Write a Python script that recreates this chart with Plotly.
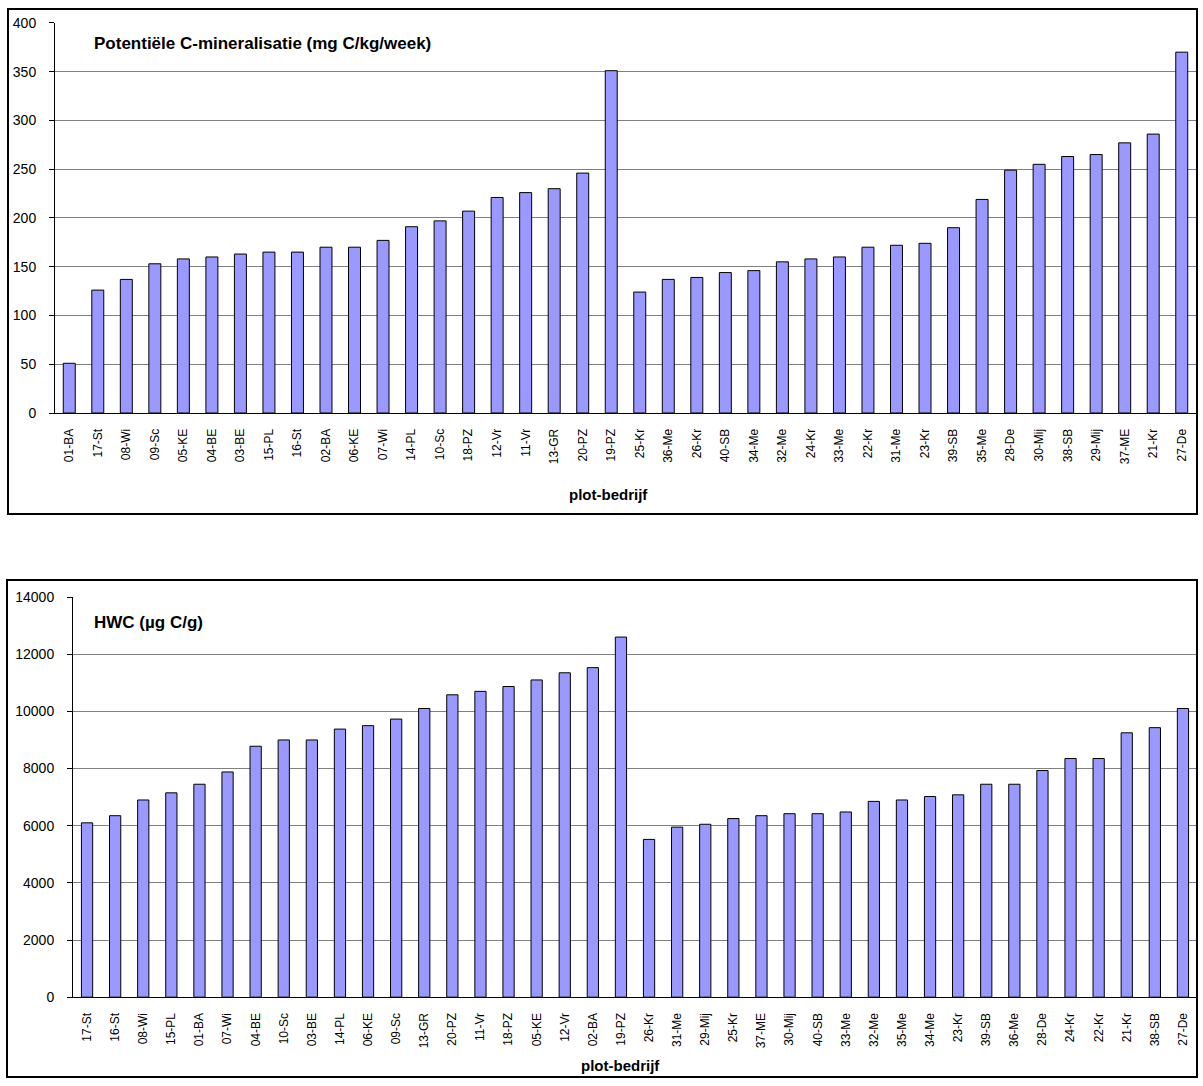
import plotly.graph_objects as go

# ---- Data: top chart (Potentiële C-mineralisatie) ----
cmin_labels = ["01-BA", "17-St", "08-Wi", "09-Sc", "05-KE", "04-BE", "03-BE", "15-PL", "16-St", "02-BA",
               "06-KE", "07-Wi", "14-PL", "10-Sc", "18-PZ", "12-Vr", "11-Vr", "13-GR", "20-PZ", "19-PZ",
               "25-Kr", "36-Me", "26-Kr", "40-SB", "34-Me", "32-Me", "24-Kr", "33-Me", "22-Kr", "31-Me",
               "23-Kr", "39-SB", "35-Me", "28-De", "30-Mij", "38-SB", "29-Mij", "37-ME", "21-Kr", "27-De"]
cmin_values = [51, 126, 137, 153, 158, 160, 163, 165, 165, 170,
               170, 177, 191, 197, 207, 221, 226, 230, 246, 351,
               124, 137, 139, 144, 146, 155, 158, 160, 170, 172,
               174, 190, 219, 249, 255, 263, 265, 277, 286, 370]
cmin_ticks = [0, 50, 100, 150, 200, 250, 300, 350, 400]

# ---- Data: bottom chart (HWC) ----
hwc_labels = ["17-St", "16-St", "08-Wi", "15-PL", "01-BA", "07-Wi", "04-BE", "10-Sc", "03-BE", "14-PL",
              "06-KE", "09-Sc", "13-GR", "20-PZ", "11-Vr", "18-PZ", "05-KE", "12-Vr", "02-BA", "19-PZ",
              "26-Kr", "31-Me", "29-Mij", "25-Kr", "37-ME", "30-Mij", "40-SB", "33-Me", "32-Me", "35-Me",
              "34-Me", "23-Kr", "39-SB", "36-Me", "28-De", "24-Kr", "22-Kr", "21-Kr", "38-SB", "27-De"]
hwc_values = [6100, 6350, 6900, 7150, 7450, 7880, 8780, 9000, 9000, 9380,
              9500, 9730, 10100, 10580, 10700, 10870, 11100, 11350, 11530, 12600,
              5520, 5950, 6050, 6250, 6350, 6420, 6420, 6480, 6850, 6900,
              7020, 7080, 7450, 7450, 7930, 8350, 8350, 9250, 9430, 10100]
hwc_ticks = [0, 2000, 4000, 6000, 8000, 10000, 12000, 14000]

W, H = 1203, 1086
FONT = "Liberation Sans, Arial, sans-serif"
BAR_FILL = "#9999FF"


def px(x):
    return x / W


def py(y):
    # compensate the vertical offset/scale observed in the rendered page
    i = (y - 8.1) / 0.985
    i = min(max(i, 1.0), H - 1.0)
    return 1 - i / H


fig = go.Figure()
fig.add_trace(go.Bar(x=cmin_labels, y=cmin_values, xaxis="x", yaxis="y",
                     marker=dict(color=BAR_FILL, line=dict(color="black", width=1)),
                     width=0.42, showlegend=False))
fig.add_trace(go.Bar(x=hwc_labels, y=hwc_values, xaxis="x2", yaxis="y2",
                     marker=dict(color=BAR_FILL, line=dict(color="black", width=1)),
                     width=0.40, showlegend=False))

axis_common = dict(showline=True, linecolor="black", linewidth=1, mirror=False)

fig.update_layout(
    width=W, height=H,
    margin=dict(l=0, r=0, t=0, b=0),
    paper_bgcolor="white", plot_bgcolor="white",
    font=dict(family=FONT, color="black", size=12),
    xaxis=dict(domain=[px(55), px(1196)], anchor="y", type="category",
               tickangle=-90, tickfont=dict(size=12), ticks="",
               ticklabelstandoff=10, showgrid=False, **axis_common),
    yaxis=dict(domain=[py(413), py(23)], anchor="x", range=[0, 400],
               tickvals=cmin_ticks, ticks="outside", ticklen=5, tickcolor="black",
               tickfont=dict(size=14), ticklabelstandoff=10, tickformat="d",
               showgrid=True, gridcolor="#808080", gridwidth=1, zeroline=False, **axis_common),
    xaxis2=dict(domain=[px(73), px(1197)], anchor="y2", type="category",
                tickangle=-90, tickfont=dict(size=12), ticks="",
                ticklabelstandoff=10, showgrid=False, **axis_common),
    yaxis2=dict(domain=[py(997), py(597)], anchor="x2", range=[0, 14000],
                tickvals=hwc_ticks, ticks="outside", ticklen=5, tickcolor="black",
                tickfont=dict(size=14), ticklabelstandoff=10, tickformat="d",
                showgrid=True, gridcolor="#808080", gridwidth=1, zeroline=False, **axis_common),
)

# Chart borders
fig.add_shape(type="rect", xref="paper", yref="paper",
              x0=px(8), x1=px(1197), y0=py(514), y1=py(6),
              line=dict(color="black", width=2), fillcolor="rgba(0,0,0,0)", layer="above")
fig.add_shape(type="rect", xref="paper", yref="paper",
              x0=px(7), x1=px(1197), y0=py(1083), y1=py(580),
              line=dict(color="black", width=2), fillcolor="rgba(0,0,0,0)", layer="above")

# In-plot titles
fig.add_annotation(text="<b>Potentiële C-mineralisatie (mg C/kg/week)</b>", xref="paper", yref="paper",
                   x=px(92), y=py(44), xanchor="left", yanchor="middle", showarrow=False,
                   font=dict(family=FONT, size=17, color="black"))
fig.add_annotation(text="<b>HWC (µg C/g)</b>", xref="paper", yref="paper",
                   x=px(92), y=py(622), xanchor="left", yanchor="middle", showarrow=False,
                   font=dict(family=FONT, size=17, color="black"))

# Axis titles
fig.add_annotation(text="<b>plot-bedrijf</b>", xref="paper", yref="paper",
                   x=px(608), y=py(494), xanchor="center", yanchor="middle", showarrow=False,
                   font=dict(family=FONT, size=15, color="black"))
fig.add_annotation(text="<b>plot-bedrijf</b>", xref="paper", yref="paper",
                   x=px(620), y=py(1065), xanchor="center", yanchor="middle", showarrow=False,
                   font=dict(family=FONT, size=15, color="black"))

fig.write_html(
    "out.html",
    config={"displayModeBar": False},
    post_script=(
        "document.documentElement.style.margin='0';"
        "document.body.style.margin='0';"
        "document.documentElement.style.overflow='hidden';"
        "document.body.style.overflow='hidden';"
        "var d=document.querySelector('.plotly-graph-div');"
        "d.style.position='fixed';d.style.top='0px';d.style.left='0px';"
    ),
)
